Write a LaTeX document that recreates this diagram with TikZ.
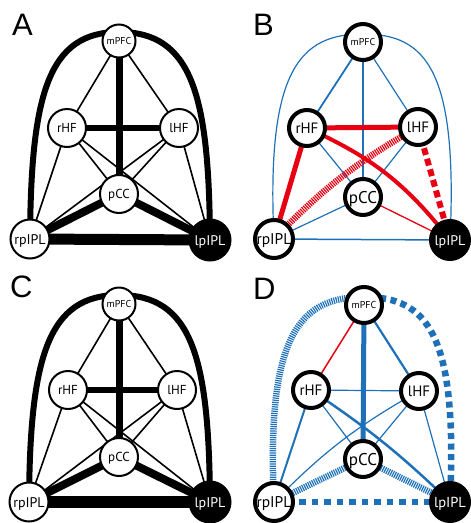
\documentclass[tikz,border=0pt]{standalone}
\usepackage{fontspec}
\setsansfont{PT Sans}
\newfontfamily\letterfont{Liberation Sans}
\pgfdeclarelayer{edges}
\pgfsetlayers{edges,main}
\definecolor{netblue}{RGB}{30,113,184}
\definecolor{netred}{RGB}{230,0,18}
\newcommand{\roilabel}[1]{\makebox[0pt][c]{#1}}
\newcommand{\fs}[1]{\sffamily\fontsize{#1}{#1}\selectfont}

\tikzset{
  roithin/.style={circle, draw=black, fill=white, line width=2pt, inner sep=0pt,
                  text depth=0pt},
  roibold/.style={circle, draw=black, fill=white, line width=4pt, inner sep=0pt,
                  text depth=0pt},
  roidark/.style={fill=black, text=white},
  panelletter/.style={font=\letterfont\fontsize{31}{31}\selectfont, inner sep=0pt, anchor=base west},
  thinblack/.style={line width=1.6pt, black},
  blackw/.style={line width=#1, black},
  bluew/.style={line width=#1, netblue},
  redw/.style={line width=#1, netred},
  hatch/.style={dash pattern=on 1.2pt off 1pt},
  bigdash/.style={dash pattern=on 7pt off 4pt},
}

\begin{document}
\begin{tikzpicture}[x=1pt, y=-1pt]
\useasboundingbox (0,0) rectangle (471,523);

% ---------------- panel A ----------------
\node[panelletter] (labA) at (12,35) {A};
\node[roithin, minimum size=33pt, font=\fs{10}, text height=7pt] (Am) at (119,41) {\roilabel{mPFC}};
\node[roithin, minimum size=38pt, font=\fs{13}, text height=9pt] (Ar) at (67,128) {\roilabel{rHF}};
\node[roithin, minimum size=38pt, font=\fs{13}, text height=9pt] (Al) at (179,128) {\roilabel{lHF}};
\node[roithin, minimum size=38pt, font=\fs{13}, text height=9pt] (Ap) at (119,194) {\roilabel{pCC}};
\node[roithin, minimum size=39pt, font=\fs{14}, text height=10pt] (Arp) at (30,239) {\roilabel{rpIPL}};
\node[roithin, roidark, minimum size=41pt, font=\fs{14}, text height=10pt] (Alp) at (210,240) {\roilabel{lpIPL}};
\coordinate (Atop) at (119,32);
\begin{pgfonlayer}{edges}
  \draw[thinblack] (Am.center) -- (Ar.center);
  \draw[thinblack] (Am.center) -- (Al.center);
  \draw[thinblack] (Ar.center) -- (Ap.center);
  \draw[thinblack] (Al.center) -- (Ap.center);
  \draw[thinblack] (Ar.center) -- (Arp.center);
  \draw[thinblack] (Ar.center) -- (Alp.center);
  \draw[thinblack] (Al.center) -- (Arp.center);
  \draw[thinblack] (Al.center) -- (Alp.center);
  \draw[blackw=7pt] (Am.center) -- (Ap.center);
  \draw[blackw=6pt] (Ar.center) -- (Al.center);
  \draw[blackw=8pt] (Ap.center) -- (Arp.center);
  \draw[blackw=8pt] (Ap.center) -- (Alp.center);
  \draw[blackw=11pt] (Arp.center) -- (Alp.center);
  \draw[blackw=6pt] (Arp.center) .. controls (31,95) and (48,32) .. (Atop);
  \draw[blackw=6pt] (Alp.center) .. controls (209,95) and (192,32) .. (Atop);
\end{pgfonlayer}

% ---------------- panel B ----------------
\node[panelletter] (labB) at (253,35) {B};
\node[roibold, minimum size=36pt, font=\fs{10}, text height=7pt] (Bm) at (363,42) {\roilabel{mPFC}};
\node[roibold, minimum size=36pt, font=\fs{15}, text height=10.5pt] (Br) at (307,128) {\roilabel{rHF}};
\node[roibold, minimum size=36pt, font=\fs{15}, text height=10.5pt] (Bl) at (418,127) {\roilabel{lHF}};
\node[roibold, minimum size=36pt, font=\fs{17}, text height=12pt] (Bp) at (363,197) {\roilabel{pCC}};
\node[roibold, minimum size=38pt, font=\fs{15.5}, text height=11pt] (Brp) at (274,239) {\roilabel{rpIPL}};
\node[roibold, roidark, minimum size=38pt, font=\fs{14}, text height=10pt] (Blp) at (450,240) {\roilabel{lpIPL}};
\coordinate (Btop) at (363,34);
\begin{pgfonlayer}{edges}
  \draw[bluew=1.2pt] (Brp.center) .. controls (266,70) and (300,34) .. (Btop);
  \draw[bluew=1.2pt] (Blp.center) .. controls (458,70) and (426,34) .. (Btop);
  \draw[bluew=1.8pt] (Bm.center) -- (Br.center);
  \draw[bluew=1.2pt] (Bm.center) -- (Bl.center);
  \draw[bluew=1.2pt] (Bm.center) -- (Bp.center);
  \draw[bluew=1.2pt] (Br.center) -- (Bp.center);
  \draw[bluew=1.2pt] (Bl.center) -- (Bp.center);
  \draw[bluew=1.2pt] (Bp.center) -- (Brp.center);
  \draw[bluew=1.5pt] (Brp.center) -- (Blp.center);
  \draw[redw=1.3pt] (Bp.center) -- (Blp.center);
  \draw[redw=5pt] (Br.center) -- (Bl.center);
  \draw[redw=5pt] (Br.center) -- (Brp.center);
  \draw[redw=4pt] (Br.center) to[bend left=14] (Blp.center);
  \draw[redw=6.5pt, hatch] (Bl.center) to[bend right=8] (Brp.center);
  \draw[redw=6pt, bigdash] (Bl.center) -- (Blp.center);
\end{pgfonlayer}

% ---------------- panel C ----------------
\node[panelletter] (labC) at (10,297) {C};
\node[roithin, minimum size=33pt, font=\fs{10}, text height=7pt] (Cm) at (119,304) {\roilabel{mPFC}};
\node[roithin, minimum size=38pt, font=\fs{13}, text height=9pt] (Cr) at (68,390) {\roilabel{rHF}};
\node[roithin, minimum size=38pt, font=\fs{13}, text height=9pt] (Cl) at (177,390) {\roilabel{lHF}};
\node[roithin, minimum size=38pt, font=\fs{13}, text height=9pt] (Cp) at (119,457) {\roilabel{pCC}};
\node[roithin, minimum size=39pt, font=\fs{14}, text height=10pt] (Crp) at (29,502) {\roilabel{rpIPL}};
\node[roithin, roidark, minimum size=41pt, font=\fs{14}, text height=10pt] (Clp) at (210,502) {\roilabel{lpIPL}};
\coordinate (Ctop) at (119,295);
\begin{pgfonlayer}{edges}
  \draw[thinblack] (Cm.center) -- (Cr.center);
  \draw[thinblack] (Cm.center) -- (Cl.center);
  \draw[thinblack] (Cr.center) -- (Cp.center);
  \draw[thinblack] (Cl.center) -- (Cp.center);
  \draw[thinblack] (Cr.center) -- (Crp.center);
  \draw[thinblack] (Cr.center) -- (Clp.center);
  \draw[thinblack] (Cl.center) -- (Crp.center);
  \draw[thinblack] (Cl.center) -- (Clp.center);
  \draw[blackw=7pt] (Cm.center) -- (Cp.center);
  \draw[blackw=6pt] (Cr.center) -- (Cl.center);
  \draw[blackw=8pt] (Cp.center) -- (Crp.center);
  \draw[blackw=8pt] (Cp.center) -- (Clp.center);
  \draw[blackw=12pt] (Crp.center) -- (Clp.center);
  \draw[blackw=6pt] (Crp.center) .. controls (30,357) and (48,295) .. (Ctop);
  \draw[blackw=6pt] (Clp.center) .. controls (209,357) and (192,295) .. (Ctop);
\end{pgfonlayer}

% ---------------- panel D ----------------
\node[panelletter] (labD) at (253,299) {D};
\node[roibold, minimum size=36pt, font=\fs{10}, text height=7pt] (Dm) at (364,305) {\roilabel{mPFC}};
\node[roibold, minimum size=36pt, font=\fs{15}, text height=10.5pt] (Dr) at (311,390) {\roilabel{rHF}};
\node[roibold, minimum size=36pt, font=\fs{15}, text height=10.5pt] (Dl) at (419,391) {\roilabel{lHF}};
\node[roibold, minimum size=36pt, font=\fs{17}, text height=12pt] (Dp) at (363,459) {\roilabel{pCC}};
\node[roibold, minimum size=38pt, font=\fs{15.5}, text height=11pt] (Drp) at (274,502) {\roilabel{rpIPL}};
\node[roibold, roidark, minimum size=38pt, font=\fs{14.5}, text height=10pt] (Dlp) at (450,502) {\roilabel{lpIPL}};
\coordinate (Dtop) at (364,297);
\begin{pgfonlayer}{edges}
  \draw[bluew=6.5pt, hatch] (Drp.center) .. controls (266,333) and (301,297) .. (Dtop);
  \draw[bluew=6.5pt, dash pattern=on 6pt off 4.5pt] (Dlp.center) .. controls (458,333) and (427,297) .. (Dtop);
  \draw[redw=1.5pt] (Dm.center) -- (Dr.center);
  \draw[bluew=2.2pt] (Dm.center) -- (Dl.center);
  \draw[bluew=5pt] (Dm.center) -- (Dp.center);
  \draw[bluew=1.2pt] (Dr.center) -- (Dl.center);
  \draw[bluew=2pt] (Dr.center) -- (Drp.center);
  \draw[bluew=2.5pt] (Dr.center) to[bend left=5] (Dlp.center);
  \draw[bluew=1.2pt] (Dr.center) -- (Dp.center);
  \draw[bluew=1.2pt] (Dl.center) -- (Dp.center);
  \draw[bluew=1.2pt] (Dl.center) to[bend right=8] (Drp.center);
  \draw[bluew=1.2pt] (Dl.center) -- (Dlp.center);
  \draw[bluew=6.5pt, hatch] (Dp.center) -- (Drp.center);
  \draw[bluew=6.5pt, hatch] (Dp.center) -- (Dlp.center);
  \draw[bluew=6.5pt, dash pattern=on 6.5pt off 6pt] (Drp.center) -- (Dlp.center);
\end{pgfonlayer}
\end{tikzpicture}
\end{document}
